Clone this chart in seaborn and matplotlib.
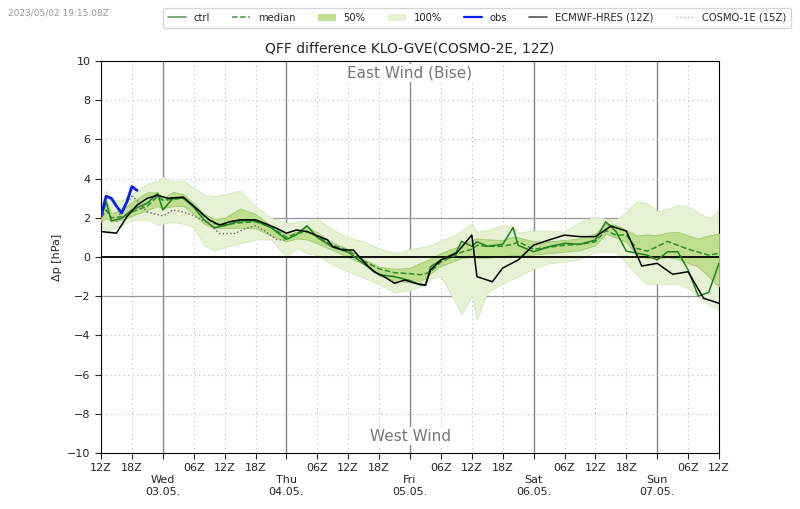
import numpy as np
import pandas as pd
import seaborn as sns
import matplotlib
matplotlib.use("Agg")
import matplotlib.pyplot as plt
from matplotlib.lines import Line2D
from matplotlib.patches import Patch

# hours since 2023-05-02 12Z
ens_hours = [0, 1, 2, 4, 6, 9, 11, 12, 14, 16, 18, 20, 22, 24, 27, 30, 33, 36, 38, 40,
             42, 45, 48, 51, 54, 57, 60, 62, 63, 64, 66, 69, 70, 72, 73, 75, 78, 80, 81, 84,
             87, 90, 93, 96, 98, 100, 102, 104, 106, 108, 110, 112, 114, 116, 118, 120]
ctrl = [2.0, 2.8, 1.85, 1.97, 2.4, 2.75, 3.25, 2.4, 3.0, 3.0, 2.55, 1.9, 1.5, 1.6, 1.85, 1.85, 1.5, 0.9, 1.15, 1.6,
        1.0, 0.5, 0.25, -0.35, -0.9, -1.0, -1.2, -1.43, -1.45, -0.5, -0.15, 0.25, 0.8, 0.55, 0.78, 0.55, 0.65, 1.5, 0.6, 0.27,
        0.53, 0.7, 0.65, 0.87, 1.8, 1.3, 0.3, 0.2, 0.1, -0.15, 0.27, 0.27, -0.66, -2.0, -1.8, -0.32]
median = [2.0, 2.4, 2.0, 2.05, 2.3, 2.6, 3.1, 2.9, 2.95, 3.0, 2.6, 2.1, 1.7, 1.65, 1.75, 1.8, 1.55, 1.0, 1.2, 1.3,
          1.05, 0.6, 0.35, -0.2, -0.6, -0.8, -0.85, -0.9, -0.85, -0.75, -0.25, 0.1, 0.25, 0.4, 0.6, 0.55, 0.55, 0.65, 0.78, 0.4,
          0.5, 0.6, 0.65, 0.78, 1.35, 1.12, 1.12, 0.44, 0.3, 0.53, 0.8, 0.6, 0.4, 0.25, 0.1, 0.19]
q75 = [2.2, 2.9, 2.25, 2.4, 2.8, 3.3, 3.3, 3.0, 3.33, 3.2, 2.75, 2.2, 1.95, 2.0, 2.48, 2.2, 1.6, 1.15, 1.3, 1.55,
       1.25, 0.75, 0.4, -0.1, -0.5, -0.6, -0.55, -0.3, -0.2, -0.07, 0.2, 0.5, 0.65, 0.87, 0.95, 0.9, 0.87, 1.04, 1.0, 0.8,
       0.8, 0.87, 0.95, 1.2, 1.72, 1.63, 1.38, 1.1, 1.15, 1.12, 1.25, 1.29, 1.1, 0.95, 1.1, 1.2]
q25 = [1.8, 2.0, 1.8, 1.9, 2.1, 2.4, 2.6, 2.5, 2.6, 2.6, 2.2, 1.7, 1.46, 1.48, 1.5, 1.46, 1.1, 0.8, 0.95, 0.9,
       0.7, 0.35, 0.0, -0.35, -0.95, -1.2, -1.3, -1.2, -1.1, -0.83, -0.45, -0.15, -0.05, 0.0, -0.05, -0.05, 0.05, 0.1, 0.1, 0.12,
       0.2, 0.27, 0.35, 0.6, 1.2, 1.0, 0.75, 0.1, -0.05, -0.07, 0.0, -0.1, -0.3, -0.5, -1.0, -1.5]
ens_min = [1.6, 1.2, 1.4, 1.6, 1.9, 1.9, 1.65, 1.7, 1.8, 1.7, 1.5, 0.6, 0.36, 0.5, 0.7, 0.9, 0.9, 0.0, 0.45, 0.2,
           0.1, -0.4, -0.75, -1.05, -1.4, -1.8, -1.7, -1.5, -1.3, -1.1, -1.0, -2.4, -2.9, -2.0, -3.2, -1.8, -1.35, -1.1, -1.0, -0.58,
           -0.32, -0.24, -0.1, 0.27, 0.27, 0.27, -0.3, -0.9, -1.4, -1.35, -1.4, -1.35, -1.6, -2.0, -2.45, -2.7]
ens_max = [2.6, 3.4, 2.9, 2.9, 3.2, 3.75, 3.9, 4.1, 3.85, 3.9, 3.55, 3.2, 3.1, 3.2, 3.4, 2.6, 2.0, 1.75, 1.8, 1.85,
           1.95, 1.4, 1.0, 0.8, 0.45, 0.2, 0.4, 0.5, 0.55, 0.61, 0.85, 1.15, 1.35, 1.72, 1.3, 1.38, 1.63, 1.6, 1.25, 1.35,
           1.35, 1.3, 1.8, 2.06, 1.95, 1.9, 2.3, 2.85, 2.75, 2.35, 2.45, 2.65, 2.6, 2.25, 1.97, 2.4]

obs_hours = [0, 1, 2, 3, 4, 5, 6, 7]
obs = [2.1, 3.1, 3.0, 2.6, 2.25, 2.8, 3.6, 3.4]

ecmwf_hours = [0, 3, 5, 7, 9, 11, 13, 16, 18, 21, 23, 25, 27, 30, 32, 34, 36, 38, 40, 44,
               45, 47, 49, 51, 53, 55, 57, 59, 61, 63, 64, 66, 69, 72, 73, 76, 78, 81, 84, 87,
               90, 93, 96, 99, 102, 105, 108, 111, 114, 117, 120]
ecmwf = [1.3, 1.22, 2.05, 2.65, 3.0, 3.15, 3.0, 3.06, 2.6, 1.9, 1.63, 1.8, 1.9, 1.9, 1.7, 1.48, 1.22, 1.38, 1.3, 0.87,
         0.53, 0.36, 0.36, -0.24, -0.75, -1.0, -1.34, -1.17, -1.34, -1.43, -0.66, -0.15, 0.19, 1.12, -1.0, -1.26, -0.56, -0.15, 0.61, 0.87,
         1.12, 1.04, 1.04, 1.58, 1.33, -0.46, -0.32, -0.88, -0.75, -2.1, -2.36]

c1e_hours = [3, 4, 6, 7, 9, 12, 14, 16, 18, 21, 23, 26, 28, 30, 32, 34, 36]
c1e = [1.8, 2.4, 3.1, 2.9, 2.3, 2.1, 2.4, 2.3, 2.1, 1.7, 1.2, 1.2, 1.45, 1.6, 1.3, 0.9, 0.85]

tick_hours = list(range(0, 121, 6))
day_labels = {12: "Wed\n03.05.", 36: "Thu\n04.05.", 60: "Fri\n05.05.", 84: "Sat\n06.05.", 108: "Sun\n07.05."}
hour_names = {0: "00Z", 6: "06Z", 12: "12Z", 18: "18Z"}

ens = pd.DataFrame({"hour": ens_hours, "ctrl": ctrl, "median": median,
                    "q25": q25, "q75": q75, "min": ens_min, "max": ens_max})

sns.set_style("white")
fig = plt.figure(figsize=(8, 5.09), dpi=100)
ax = fig.add_axes([0.12625, 0.110, 0.7725, 0.770])

# grid
for h in tick_hours:
    if h in day_labels:
        ax.axvline(h, color="#888888", lw=1.0, zorder=1)
    else:
        ax.axvline(h, color="#bbbbbb", lw=0.8, ls=(0, (1, 3)), zorder=1)
for v in range(-10, 11, 2):
    if v == 0:
        ax.axhline(0, color="black", lw=1.3, zorder=4)
    elif abs(v) == 2:
        ax.axhline(v, color="#999999", lw=0.9, zorder=1)
    else:
        ax.axhline(v, color="#bbbbbb", lw=0.8, ls=(0, (1, 3)), zorder=1)

ax.fill_between(ens["hour"], ens["min"], ens["max"], color="#e6f2d3", edgecolor="#d3e8bb", lw=0.6, zorder=2)
ax.fill_between(ens["hour"], ens["q25"], ens["q75"], color="#bfdf8e", edgecolor="#9cc870", lw=0.6, zorder=3)

sns.lineplot(x=ens["hour"], y=ens["median"], ax=ax, color="#2f8a2f", lw=1.1, linestyle="--", zorder=5)
sns.lineplot(x=ens["hour"], y=ens["ctrl"], ax=ax, color="#1f7f1f", lw=1.1, zorder=6)
sns.lineplot(x=c1e_hours, y=c1e, ax=ax, color="#666666", lw=1.0, linestyle=":", zorder=6)
sns.lineplot(x=ecmwf_hours, y=ecmwf, ax=ax, color="black", lw=1.1, zorder=7)
sns.lineplot(x=obs_hours, y=obs, ax=ax, color="#0a1ef0", lw=2.0, zorder=8)

ax.set_xlim(0, 120)
ax.set_ylim(-10, 10)
ax.set_yticks(range(-10, 11, 2))
labels = []
for h in tick_hours:
    if h in day_labels:
        labels.append("\n" + day_labels[h])
    else:
        labels.append(hour_names[(h + 12) % 24])
ax.set_xticks(tick_hours)
ax.set_xticklabels(labels, fontsize=8, linespacing=1.25)
ax.tick_params(axis="y", labelsize=8)
ax.tick_params(direction="out", length=4, width=0.8, bottom=True, left=True)
for spine in ax.spines.values():
    spine.set_color("black")
    spine.set_linewidth(0.8)

ax.set_xlabel("")
ax.set_ylabel("Δp [hPa]", fontsize=8)
ax.set_title("QFF difference KLO-GVE(COSMO-2E, 12Z)", fontsize=10, pad=6)

ax.text(60, 9.4, "East Wind (Bise)", ha="center", va="center", fontsize=11, color="#777777",
        bbox=dict(facecolor="white", edgecolor="none", pad=1), zorder=9)
ax.text(60, -9.15, "West Wind", ha="center", va="center", fontsize=11, color="#777777",
        bbox=dict(facecolor="white", edgecolor="none", pad=1), zorder=9)

fig.text(0.01, 0.975, "2023/05/02 19:15:08Z", fontsize=6.5, color="#999999", va="center")

handles = [
    Line2D([], [], color="#5f9a5f", lw=1.2),
    Line2D([], [], color="#4f8f4f", lw=1.1, ls="--"),
    Patch(facecolor="#c2df93", edgecolor="none"),
    Patch(facecolor="#e6f2d3", edgecolor="none"),
    Line2D([], [], color="#0a1ef0", lw=1.6),
    Line2D([], [], color="#555555", lw=1.2),
    Line2D([], [], color="#aaaaaa", lw=1.0, ls=":"),
]
names = ["ctrl", "median", "50%", "100%", "obs", "ECMWF-HRES (12Z)", "COSMO-1E (15Z)"]
fig.legend(handles, names, loc="upper right", bbox_to_anchor=(0.995, 0.995), ncol=7,
           fontsize=7.2, frameon=True, handlelength=1.8, columnspacing=2.2, borderpad=0.5)

fig.savefig("out.png", dpi=100)
